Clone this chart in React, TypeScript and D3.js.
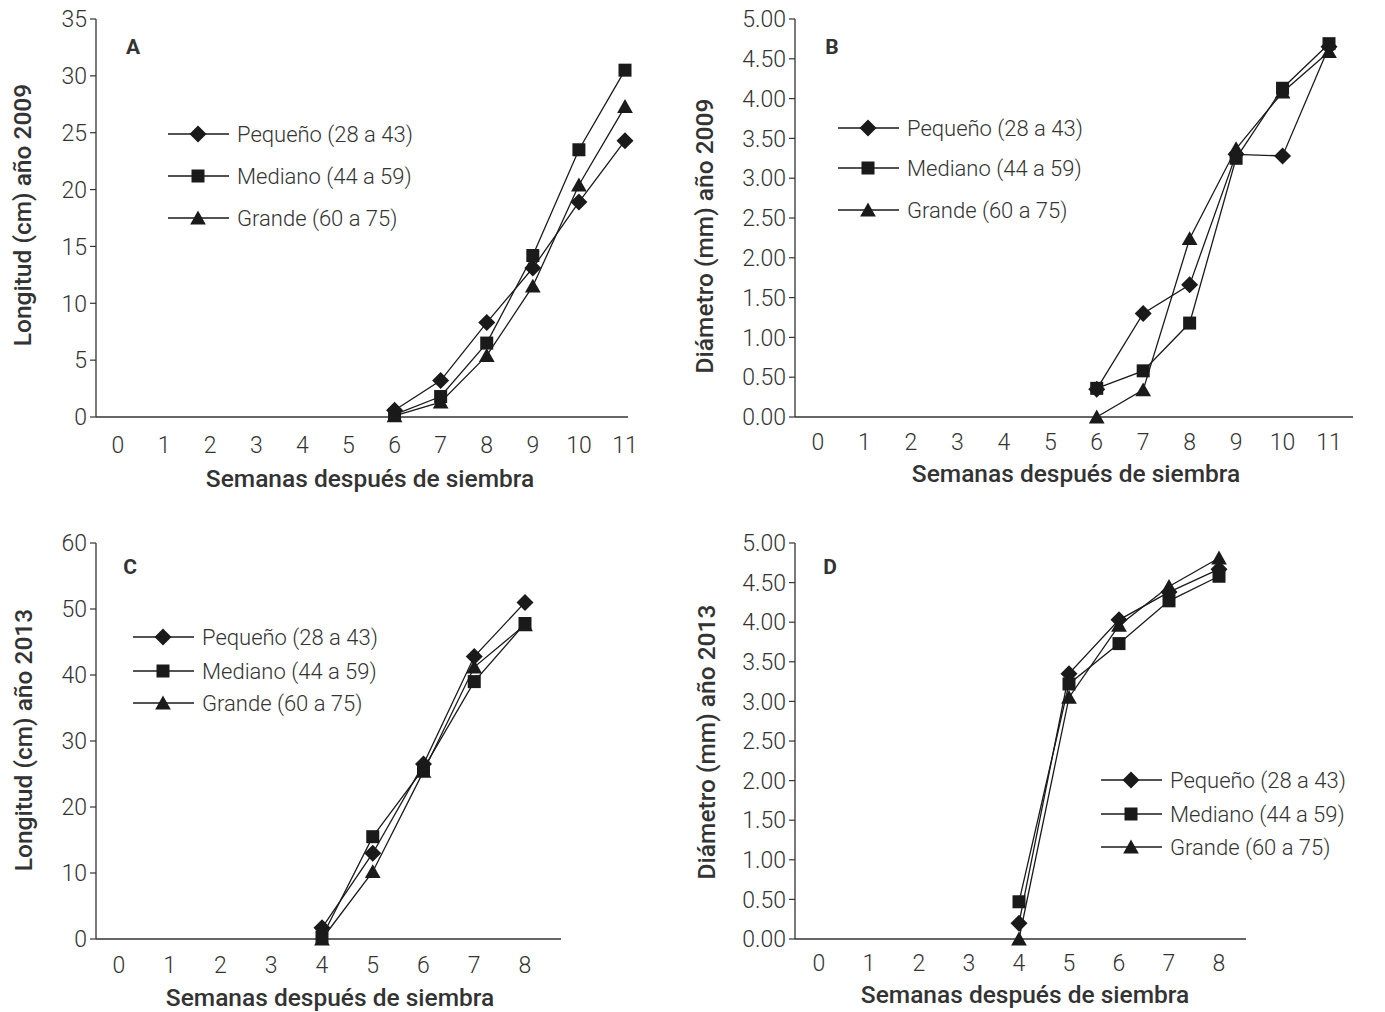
import React from "react";
import * as d3 from "d3";

// ---------- DATA ----------
const weeks2009 = [6, 7, 8, 9, 10, 11];
const weeks2013 = [4, 5, 6, 7, 8];
const seriesNames = ["Pequeño (28 a 43)", "Mediano (44 a 59)", "Grande (60 a 75)"];
const markerTypes = ["diamond", "square", "triangle"];

const longitud2009Pequeno = [0.6, 3.2, 8.3, 13.1, 18.9, 24.3];
const longitud2009Mediano = [0.2, 1.8, 6.5, 14.2, 23.5, 30.5];
const longitud2009Grande = [0.1, 1.3, 5.4, 11.5, 20.4, 27.3];

const diametro2009Pequeno = [0.35, 1.3, 1.66, 3.3, 3.28, 4.65];
const diametro2009Mediano = [0.36, 0.58, 1.18, 3.25, 4.13, 4.69];
const diametro2009Grande = [0.0, 0.34, 2.24, 3.37, 4.08, 4.59];

const longitud2013Pequeno = [1.7, 13.0, 26.5, 42.8, 51.0];
const longitud2013Mediano = [0.3, 15.5, 25.8, 39.0, 47.8];
const longitud2013Grande = [0.0, 10.2, 25.4, 41.2, 47.6];

const diametro2013Pequeno = [0.2, 3.35, 4.03, 4.38, 4.67];
const diametro2013Mediano = [0.47, 3.22, 3.73, 4.27, 4.58];
const diametro2013Grande = [0.0, 3.05, 3.96, 4.45, 4.81];

const ticksLongitud2009 = [0, 5, 10, 15, 20, 25, 30, 35];
const ticksDiametro = [0, 0.5, 1, 1.5, 2, 2.5, 3, 3.5, 4, 4.5, 5];
const ticksLongitud2013 = [0, 10, 20, 30, 40, 50, 60];
const xTicks2009 = [0, 1, 2, 3, 4, 5, 6, 7, 8, 9, 10, 11];
const xTicks2013 = [0, 1, 2, 3, 4, 5, 6, 7, 8];

const xTitle = "Semanas después de siembra";

// ---------- STYLE ----------
const TEXT = "#333333";
const INK = "#1a1a1a";
const FONT = "Roboto, 'Noto Sans', sans-serif";
const TICK_SIZE = 23;
const TITLE_SIZE = 24.5;

type PanelCfg = {
  letter: string;
  yLabel: string;
  weeks: number[];
  series: number[][];
  yTicks: number[];
  yFmt: (v: number) => string;
  xTicks: number[];
  axisX: number;
  axisTop: number;
  axisBottom: number;
  axisRight: number;
  x0: number;
  xN: number;
  xTickOffset: number;
  letterPos: [number, number];
  yLabelPos: [number, number];
  xTitlePos: [number, number];
  legend: { x: number; ys: number[] };
};

function Marker({ type, x, y }: { type: string; x: number; y: number }) {
  if (type === "diamond") {
    const s = 8.5;
    return <path d={`M${x},${y - s}L${x + s},${y}L${x},${y + s}L${x - s},${y}Z`} fill={INK} />;
  }
  if (type === "square") {
    const s = 6.5;
    return <rect x={x - s} y={y - s} width={2 * s} height={2 * s} fill={INK} />;
  }
  const s = 7.5;
  return <path d={`M${x},${y - s}L${x + s * 1.05},${y + s * 0.85}L${x - s * 1.05},${y + s * 0.85}Z`} fill={INK} />;
}

function Panel({ cfg }: { cfg: PanelCfg }) {
  const lastTick = cfg.xTicks[cfg.xTicks.length - 1];
  const x = d3.scaleLinear().domain([0, lastTick]).range([cfg.x0, cfg.xN]);
  const yMax = cfg.yTicks[cfg.yTicks.length - 1];
  const y = d3.scaleLinear().domain([0, yMax]).range([cfg.axisBottom, cfg.axisTop]);
  const line = d3
    .line<number>()
    .x((_, i) => x(cfg.weeks[i]))
    .y((d) => y(d));

  return (
    <g>
      <line x1={cfg.axisX} x2={cfg.axisX} y1={cfg.axisTop} y2={cfg.axisBottom} stroke={TEXT} strokeWidth={1.3} />
      <line x1={cfg.axisX} x2={cfg.axisRight} y1={cfg.axisBottom} y2={cfg.axisBottom} stroke={TEXT} strokeWidth={1.5} />
      {cfg.yTicks.map((t) => (
        <g key={t}>
          <line x1={cfg.axisX - 6} x2={cfg.axisX} y1={y(t)} y2={y(t)} stroke={TEXT} strokeWidth={1.2} />
          <text
            x={cfg.axisX - 9}
            y={y(t)}
            dy="0.36em"
            textAnchor="end"
            fontSize={TICK_SIZE}
            fontWeight={300}
            fill={TEXT}
            fontFamily={FONT}
          >
            {cfg.yFmt(t)}
          </text>
        </g>
      ))}
      {cfg.xTicks.map((t) => (
        <text
          key={t}
          x={x(t)}
          y={cfg.axisBottom + cfg.xTickOffset}
          dy="0.36em"
          textAnchor="middle"
          fontSize={TICK_SIZE}
          fontWeight={300}
          fill={TEXT}
          fontFamily={FONT}
        >
          {t}
        </text>
      ))}
      <text
        x={cfg.xTitlePos[0]}
        y={cfg.xTitlePos[1]}
        dy="0.36em"
        textAnchor="middle"
        fontSize={TITLE_SIZE}
        fontWeight={500}
        fill={TEXT}
        fontFamily={FONT}
      >
        {xTitle}
      </text>
      <text
        transform={`translate(${cfg.yLabelPos[0]},${cfg.yLabelPos[1]}) rotate(-90)`}
        dy="0.36em"
        textAnchor="middle"
        fontSize={TITLE_SIZE}
        fontWeight={500}
        fill={TEXT}
        fontFamily={FONT}
      >
        {cfg.yLabel}
      </text>
      <text
        x={cfg.letterPos[0]}
        y={cfg.letterPos[1]}
        dy="0.36em"
        textAnchor="middle"
        fontSize={21}
        fontWeight={700}
        fill={TEXT}
        fontFamily={FONT}
      >
        {cfg.letter}
      </text>

      {cfg.series.map((s, si) => (
        <g key={si}>
          <path d={line(s) || ""} fill="none" stroke={INK} strokeWidth={1.3} />
          {s.map((v, i) => (
            <Marker key={i} type={markerTypes[si]} x={x(cfg.weeks[i])} y={y(v)} />
          ))}
        </g>
      ))}

      {seriesNames.map((name, i) => (
        <g key={name}>
          <line
            x1={cfg.legend.x}
            x2={cfg.legend.x + 61}
            y1={cfg.legend.ys[i]}
            y2={cfg.legend.ys[i]}
            stroke={INK}
            strokeWidth={1.3}
          />
          <Marker type={markerTypes[i]} x={cfg.legend.x + 30} y={cfg.legend.ys[i]} />
          <text
            x={cfg.legend.x + 69}
            y={cfg.legend.ys[i]}
            dy="0.36em"
            fontSize={22}
            fontWeight={300}
            fill={TEXT}
            fontFamily={FONT}
          >
            {name}
          </text>
        </g>
      ))}
    </g>
  );
}

const fmtInt = (v: number) => String(v);
const fmt2 = (v: number) => v.toFixed(2);

const panels: PanelCfg[] = [
  {
    letter: "A",
    yLabel: "Longitud (cm) año 2009",
    weeks: weeks2009,
    series: [longitud2009Pequeno, longitud2009Mediano, longitud2009Grande],
    yTicks: ticksLongitud2009,
    yFmt: fmtInt,
    xTicks: xTicks2009,
    axisX: 96,
    axisTop: 19,
    axisBottom: 417,
    axisRight: 628,
    x0: 118,
    xN: 625,
    xTickOffset: 28,
    letterPos: [133, 46],
    yLabelPos: [22, 215],
    xTitlePos: [370, 478],
    legend: { x: 168, ys: [134, 176, 218] },
  },
  {
    letter: "B",
    yLabel: "Diámetro (mm) año 2009",
    weeks: weeks2009,
    series: [diametro2009Pequeno, diametro2009Mediano, diametro2009Grande],
    yTicks: ticksDiametro,
    yFmt: fmt2,
    xTicks: xTicks2009,
    axisX: 795,
    axisTop: 19,
    axisBottom: 417,
    axisRight: 1353,
    x0: 818,
    xN: 1329,
    xTickOffset: 25,
    letterPos: [832, 46],
    yLabelPos: [704, 236],
    xTitlePos: [1076, 473],
    legend: { x: 838, ys: [128, 168, 210] },
  },
  {
    letter: "C",
    yLabel: "Longitud (cm) año 2013",
    weeks: weeks2013,
    series: [longitud2013Pequeno, longitud2013Mediano, longitud2013Grande],
    yTicks: ticksLongitud2013,
    yFmt: fmtInt,
    xTicks: xTicks2013,
    axisX: 96,
    axisTop: 543,
    axisBottom: 939,
    axisRight: 561,
    x0: 119,
    xN: 525,
    xTickOffset: 26,
    letterPos: [130, 566],
    yLabelPos: [23, 740],
    xTitlePos: [330, 997],
    legend: { x: 133, ys: [637, 671, 703] },
  },
  {
    letter: "D",
    yLabel: "Diámetro (mm) año 2013",
    weeks: weeks2013,
    series: [diametro2013Pequeno, diametro2013Mediano, diametro2013Grande],
    yTicks: ticksDiametro,
    yFmt: fmt2,
    xTicks: xTicks2013,
    axisX: 795,
    axisTop: 543,
    axisBottom: 939,
    axisRight: 1246,
    x0: 819,
    xN: 1219,
    xTickOffset: 24,
    letterPos: [830, 566],
    yLabelPos: [706, 742],
    xTitlePos: [1025, 994],
    legend: { x: 1101, ys: [780, 814, 847] },
  },
];

export default function App() {
  return (
    <svg
      width={1385}
      height={1012}
      style={{ position: "absolute", left: 0, top: 0, background: "#fff" }}
    >
      <rect width={1385} height={1012} fill="#fff" />
      {panels.map((p) => (
        <Panel key={p.letter} cfg={p} />
      ))}
    </svg>
  );
}
